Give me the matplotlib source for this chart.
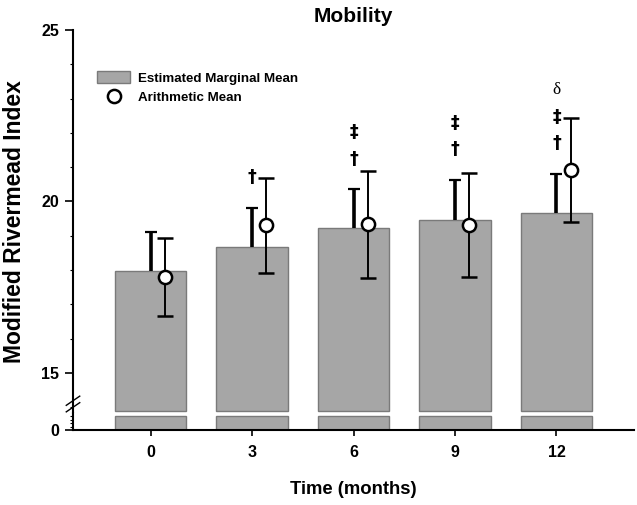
import matplotlib
matplotlib.use("Agg")
import matplotlib.pyplot as plt
from matplotlib.patches import Patch
from matplotlib.lines import Line2D
import numpy as np

# Mobility - modified Rivermead index over time
months = ["0", "3", "6", "9", "12"]
emm = [17.98, 18.66, 19.22, 19.47, 19.66]          # estimated marginal mean
emm_err = [1.14, 1.16, 1.13, 1.16, 1.15]           # upper error only
am = [17.79, 19.30, 19.33, 19.32, 20.91]           # arithmetic mean
am_err = [1.14, 1.39, 1.57, 1.52, 1.51]
signif = [[], ["\u2020"], ["\u2020", "\u2021"], ["\u2020", "\u2021"], ["\u2020", "\u2021", "\u03b4"]]

BREAK_LOW = 13.83
BAR_BASE = 13.89
BAR_FILL = "#a6a6a6"
BAR_EDGE = "#7a7a7a"

plt.rcParams.update({"font.family": ["Liberation Sans", "DejaVu Sans"], "font.weight": "bold"})

fig = plt.figure(figsize=(6.37, 5.05), dpi=100)
left = 73 / 637
width = (634 - 73) / 637
ax = fig.add_axes([left, 1 - 413 / 505, width, 383 / 505])
ax_low = fig.add_axes([left, 1 - 430 / 505, width, 17 / 505])

x = np.arange(len(months))
bw = 0.70
off = 0.14

# upper part
ax.bar(x, np.array(emm) - BAR_BASE, bottom=BAR_BASE, width=bw,
       color=BAR_FILL, edgecolor=BAR_EDGE, linewidth=1.0, zorder=1)
eb = ax.errorbar(x, emm, yerr=[np.zeros(len(emm)), emm_err], fmt="none",
                 ecolor="black", elinewidth=2.6, capsize=4, capthick=1.6, zorder=2)
eb[1][0].set_visible(False)   # no cap at the bar top
ax.errorbar(x + off, am, yerr=am_err, fmt="o", color="black", ms=9.5,
            mfc="white", mec="black", mew=1.8, elinewidth=1.4,
            capsize=6, capthick=1.4, zorder=3)

for i, syms in enumerate(signif):
    for k, s in enumerate(syms):
        if s == "\u03b4":
            fam, fw = ["Liberation Serif"], "normal"
        else:
            fam, fw = ["DejaVu Sans"], "bold"
        ax.annotate(s, xy=(x[i], emm[i] + emm_err[i]), xytext=(0, 22 + 19 * k),
                    textcoords="offset points", ha="center", va="center",
                    fontsize=12.5, fontweight=fw, family=fam)

ax.set_xlim(-0.764, 4.764)
ax.set_ylim(BREAK_LOW, 25)
ax.set_yticks([15, 20, 25])
ax.set_yticks(np.arange(14, 25), minor=True)
ax.set_xticks([])
for sp in ["top", "right", "bottom"]:
    ax.spines[sp].set_visible(False)
ax.spines["left"].set_linewidth(1.5)
ax.tick_params(axis="y", which="major", length=6, width=1.2, labelsize=11.5, pad=4)
ax.tick_params(axis="y", which="minor", length=2.5, width=0.8)
for t in ax.get_yticklabels():
    t.set_fontweight("bold")
ax.patch.set_alpha(0)

ax.set_title("Mobility", fontsize=15, fontweight="bold", pad=6)
ax.set_ylabel("Modified Rivermead Index", fontsize=16.5, fontweight="bold")
ax.yaxis.set_label_coords(-0.083, 0.5)

# legend
handles = [Patch(facecolor=BAR_FILL, edgecolor=BAR_EDGE, linewidth=1.0),
           Line2D([], [], marker="o", ls="none", ms=9.5, mfc="white", mec="black", mew=1.8)]
ax.legend(handles, ["Estimated Marginal Mean", "Arithmetic Mean"], loc="upper left",
          bbox_to_anchor=(0.043, 0.893), frameon=False, borderpad=0, borderaxespad=0,
          handlelength=2.5, handleheight=1.0, handletextpad=0.55, labelspacing=0.45,
          prop={"weight": "bold", "size": 9.6})

# lower part below the break
ax_low.bar(x, 0.82, width=bw, color=BAR_FILL, edgecolor=BAR_EDGE, linewidth=1.0)
ax_low.set_xlim(-0.764, 4.764)
ax_low.set_ylim(0, 1)
ax_low.set_yticks([0])
ax_low.set_yticks([0.2, 0.4, 0.6, 0.8], minor=True)
ax_low.set_xticks(x)
ax_low.set_xticklabels(months)
for sp in ["top", "right"]:
    ax_low.spines[sp].set_visible(False)
ax_low.spines["left"].set_linewidth(1.5)
ax_low.spines["bottom"].set_linewidth(1.5)
ax_low.tick_params(axis="y", which="major", length=6, width=1.2, labelsize=11.5, pad=4)
ax_low.tick_params(axis="y", which="minor", length=2.5, width=0.8)
ax_low.tick_params(axis="x", length=4, width=1.2, labelsize=11.5, pad=7)
for t in ax_low.get_xticklabels() + ax_low.get_yticklabels():
    t.set_fontweight("bold")
ax_low.set_xlabel("Time (months)", fontsize=13.3, fontweight="bold")
ax_low.xaxis.set_label_coords(0.5, -3.0)

# break marks on the y axis
d = 0.012
kw = dict(transform=ax.transAxes, color="black", lw=1.0, clip_on=False)
for yy in (0.015, 0.032):
    ax.plot([-d, d], [yy - 0.012, yy + 0.012], **kw)

fig.savefig("out.png", dpi=100)
